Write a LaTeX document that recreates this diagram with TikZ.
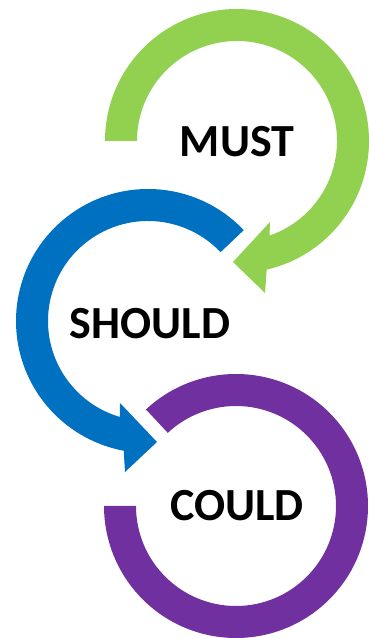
\documentclass[tikz,border=0pt]{standalone}
\usepackage{fontspec}
\setmainfont{Carlito}
\definecolor{mgreen}{RGB}{146,208,80}
\definecolor{mblue}{RGB}{0,112,192}
\definecolor{mpurple}{RGB}{112,48,160}
\begin{document}
\begin{tikzpicture}[x=1pt,y=1pt,
  label/.style={inner sep=0pt, anchor=center, font=\fontsize{46}{46}\selectfont\bfseries, text=black}]
\useasboundingbox (0,0) rectangle (369,638);
% green arrow (MUST)
\begin{scope}[shift={(237,497)}]
\fill[mgreen] (180:132) arc[start angle=180, end angle=-77, radius=132]
  -- (28,-152) -- (-4,-121) -- (33,-81)
  -- (-71:100) arc[start angle=-71, end angle=180, radius=100] -- cycle;
\end{scope}
% blue arrow (SHOULD)
\begin{scope}[shift={(148,317)}]
\fill[mblue] (43.5:132) arc[start angle=43.5, end angle=259.4, radius=132]
  -- (-23,-151) -- (9,-121) -- (-28,-82)
  -- (253.7:100) arc[start angle=253.7, end angle=43.5, radius=100] -- cycle;
\end{scope}
% purple arc (COULD)
\begin{scope}[shift={(236,132)}]
\fill[mpurple] (133:132) arc[start angle=133, end angle=-180, radius=132]
  -- (-180:100) arc[start angle=-180, end angle=133, radius=100] -- cycle;
\end{scope}
\node[label] (must) at (237,496) {MUST};
\node[label] (should) at (150,314) {SHOULD};
\node[label] (could) at (237,132) {COULD};
\end{tikzpicture}
\end{document}
